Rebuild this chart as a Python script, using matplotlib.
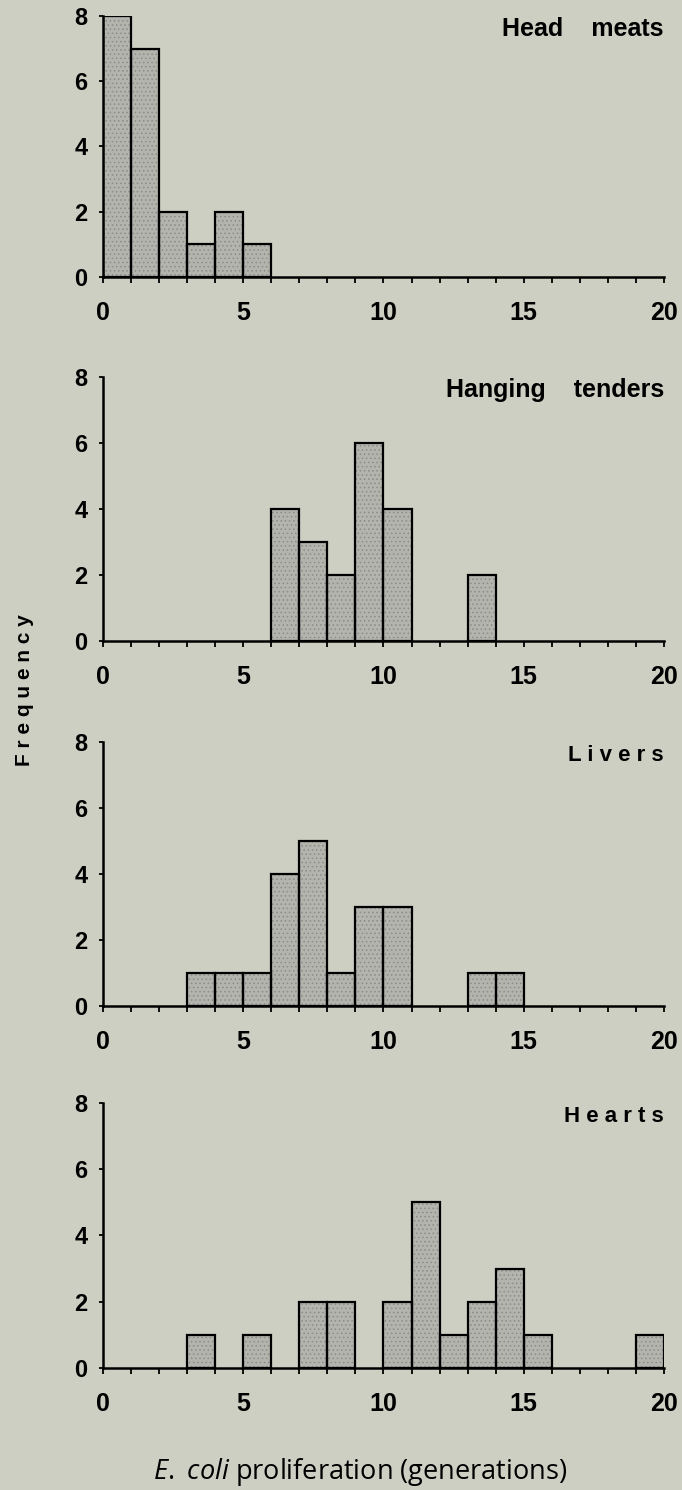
import numpy as np
import matplotlib
matplotlib.use("Agg")
import matplotlib.pyplot as plt

plt.rcParams['font.family'] = ['Liberation Sans', 'DejaVu Sans']
plt.rcParams['mathtext.fontset'] = 'custom'
plt.rcParams['mathtext.it'] = 'Open Sans:italic'
plt.rcParams['mathtext.rm'] = 'Open Sans'
plt.rcParams['hatch.linewidth'] = 0.6

# histogram bins: left edges (generations) and counts
head_left = [0, 1, 2, 3, 4, 5]
head_count = [8, 7, 2, 1, 2, 1]

tender_left = [6, 7, 8, 9, 10, 13]
tender_count = [4, 3, 2, 6, 4, 2]

liver_left = [3, 4, 5, 6, 7, 8, 9, 10, 13, 14]
liver_count = [1, 1, 1, 4, 5, 1, 3, 3, 1, 1]

heart_left = [3, 5, 7, 8, 10, 11, 12, 13, 14, 15, 19]
heart_count = [1, 1, 2, 2, 2, 5, 1, 2, 3, 1, 1]

titles = ["Head    meats", "Hanging    tenders", "L i v e r s", "H e a r t s"]
title_sizes = [18, 18, 16, 16]
x_ticks = [0, 5, 10, 15, 20]
y_ticks = [0, 2, 4, 6, 8]

bg = '#cdcfc3'
bar_color = '#b3b4ad'

fig = plt.figure(figsize=(6.82, 14.9), dpi=100)
fig.patch.set_facecolor(bg)

# axes boxes in figure fractions (left, bottom, width, height)
boxes = [
    (0.151, 0.8141, 0.8226, 0.1752),
    (0.151, 0.5698, 0.8226, 0.1772),
    (0.151, 0.3248, 0.8226, 0.1772),
    (0.151, 0.0819, 0.8226, 0.1779),
]
data = [(head_left, head_count), (tender_left, tender_count),
        (liver_left, liver_count), (heart_left, heart_count)]

for box, (left, count), title, tsize in zip(boxes, data, titles, title_sizes):
    ax = fig.add_axes(box)
    ax.set_facecolor('none')
    # stippled fill, then black outline on top
    ax.bar(left, count, width=1, align='edge', color=bar_color,
           edgecolor='#8c8d87', linewidth=0, hatch='....', zorder=2)
    ax.bar(left, count, width=1, align='edge', fill=False,
           edgecolor='black', linewidth=1.6, zorder=3)
    ax.set_xlim(0, 20)
    ax.set_ylim(0, 8)
    for s in ['top', 'right']:
        ax.spines[s].set_visible(False)
    for s in ['left', 'bottom']:
        ax.spines[s].set_linewidth(1.8)
        ax.spines[s].set_color('black')
    ax.spines['bottom'].set_zorder(4)
    ax.set_xticks(np.arange(0, 21, 1), minor=True)
    ax.set_xticks(x_ticks)
    ax.set_yticks(y_ticks)
    ax.tick_params(axis='x', which='both', direction='out', length=4,
                   width=1.3, pad=13, labelsize=18)
    ax.tick_params(axis='y', direction='out', length=3, width=1.3,
                   pad=8, labelsize=17)
    for lab in ax.get_yticklabels():
        lab.set_fontweight('bold')
    for lab in ax.get_xticklabels():
        lab.set_fontweight('bold')
    ax.text(20, 7.6, title, ha='right', va='center', fontsize=tsize,
            fontweight='bold')

fig.text(25 / 682, 1 - 690 / 1490, "F r e q u e n c y", rotation=90,
         ha='center', va='center', fontsize=15, fontweight='bold')

fig.text(360 / 682, 1 - 1472 / 1490,
         r"$\it{E.\ coli}$ proliferation (generations)",
         ha='center', va='center', fontsize=19.5,
         family=['Open Sans', 'DejaVu Sans'])

fig.savefig("out.png", dpi=100, facecolor=bg)
